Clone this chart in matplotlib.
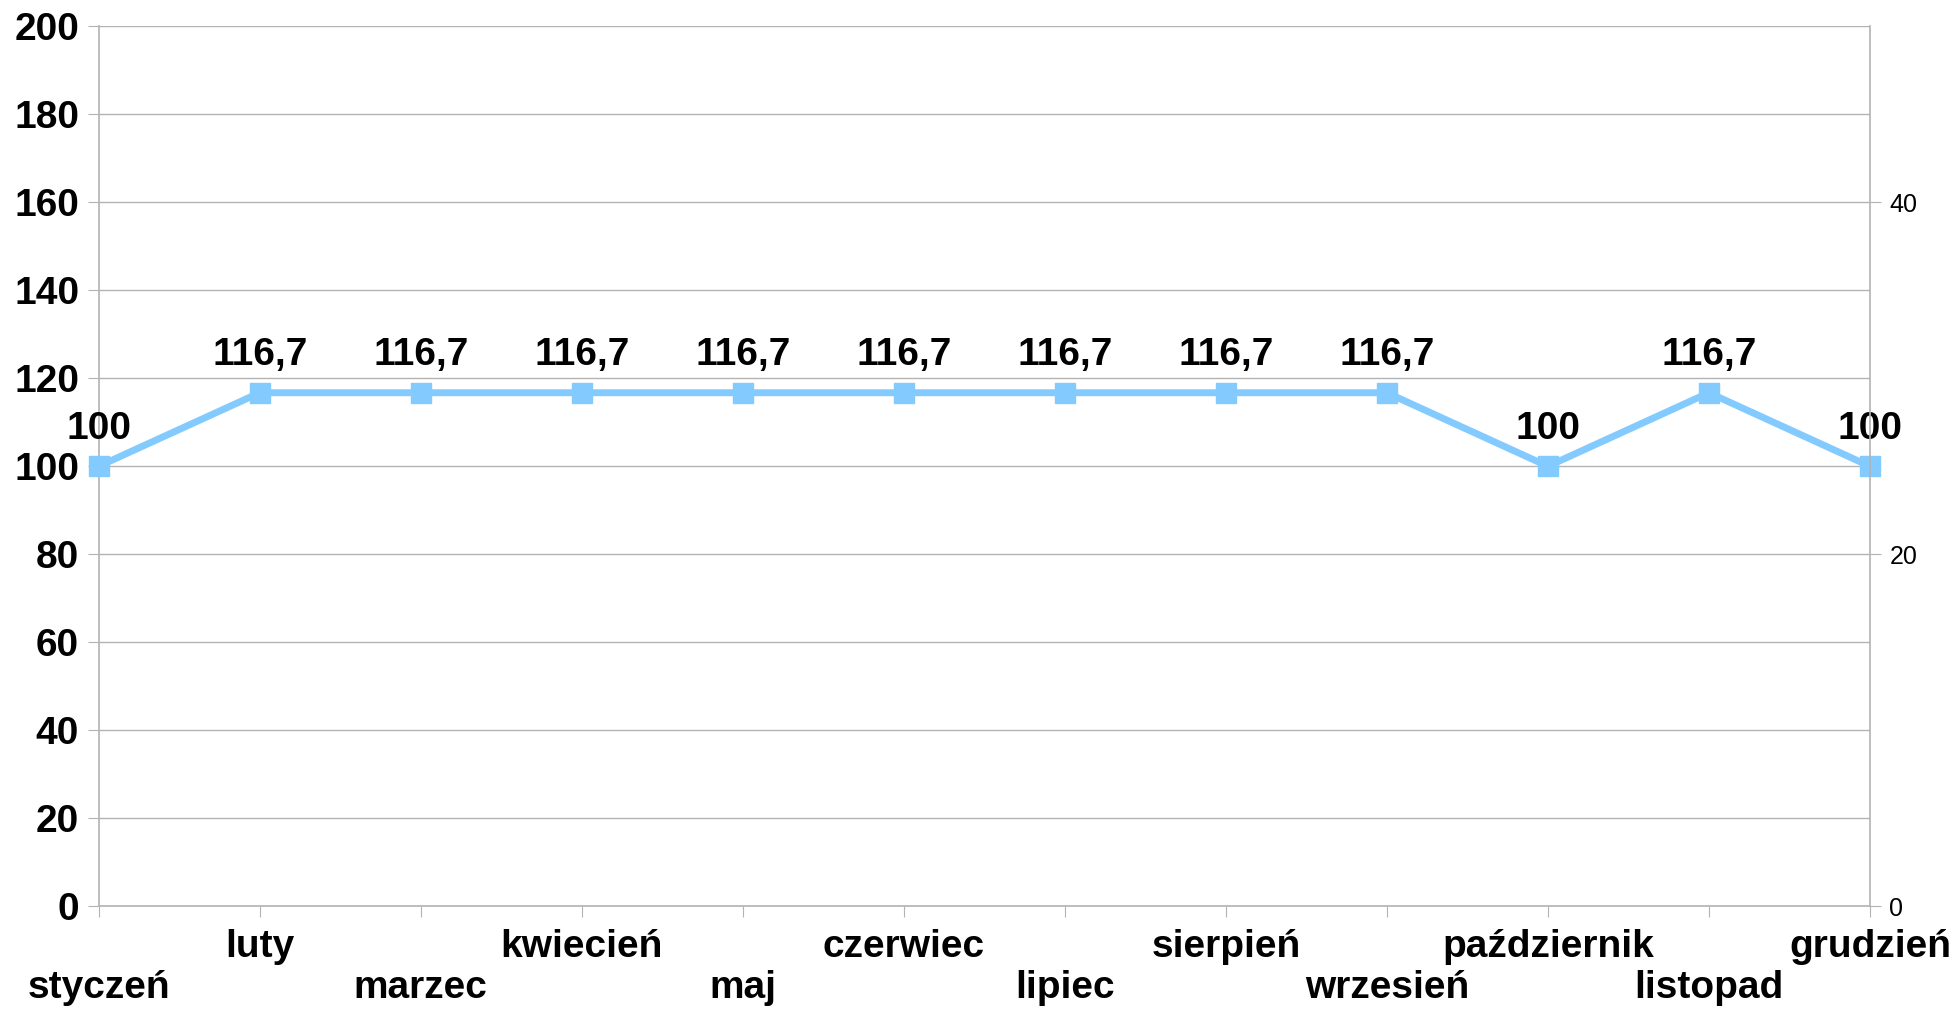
import matplotlib.pyplot as plt

plt.rcParams['font.family'] = ['Liberation Sans', 'DejaVu Sans']

# Data
months = ["styczeń", "luty", "marzec", "kwiecień", "maj", "czerwiec",
          "lipiec", "sierpień", "wrzesień", "październik", "listopad", "grudzień"]
values = [100, 116.7, 116.7, 116.7, 116.7, 116.7, 116.7, 116.7, 116.7, 100, 116.7, 100]
left_ticks = [0, 20, 40, 60, 80, 100, 120, 140, 160, 180, 200]
right_ticks = [0, 20, 40]

grey = "#b3b3b3"
blue = "#83caff"
big = 28

fig = plt.figure(figsize=(19.58, 10.09), dpi=100)
ax = fig.add_axes([0.0504, 0.1016, 0.9046, 0.8726])

x = list(range(len(months)))
ax.plot(x, values, color=blue, lw=5, marker="s", markersize=14, zorder=3, clip_on=False)

for xi, v in zip(x, values):
    txt = f"{v:g}".replace(".", ",")
    ax.annotate(txt, (xi, v), xytext=(0, 27), textcoords="offset points",
                ha="center", va="center", fontsize=big, fontweight="bold")

ax.set_xlim(0, len(months) - 1)
ax.set_ylim(0, 200)
ax.set_yticks(left_ticks)
ax.set_xticks(x)
ax.set_xticklabels([])
for xi, m in zip(x, months):
    ax.annotate(m, (xi, 0), xytext=(0, -29 if xi % 2 else -59), textcoords="offset points",
                ha="center", va="center", fontsize=big, fontweight="bold", annotation_clip=False)

ax.grid(True, axis="y", color=grey, lw=1)
ax.set_axisbelow(True)
for s in ["top", "right"]:
    ax.spines[s].set_visible(False)
for s in ["left", "bottom"]:
    ax.spines[s].set_color(grey)
    ax.spines[s].set_linewidth(1.2)
ax.tick_params(axis="y", length=8, color=grey, labelsize=big, pad=6)
ax.tick_params(axis="x", length=8, color=grey)
for lbl in ax.get_yticklabels():
    lbl.set_fontweight("bold")

ax2 = ax.twinx()
ax2.set_ylim(0, 50)
ax2.set_yticks(right_ticks)
ax2.spines["right"].set_color(grey)
ax2.spines["right"].set_linewidth(1.2)
for s in ["top", "left", "bottom"]:
    ax2.spines[s].set_visible(False)
ax2.tick_params(axis="y", length=8, color=grey, labelsize=18, pad=6)

fig.savefig("out.png", dpi=100)
